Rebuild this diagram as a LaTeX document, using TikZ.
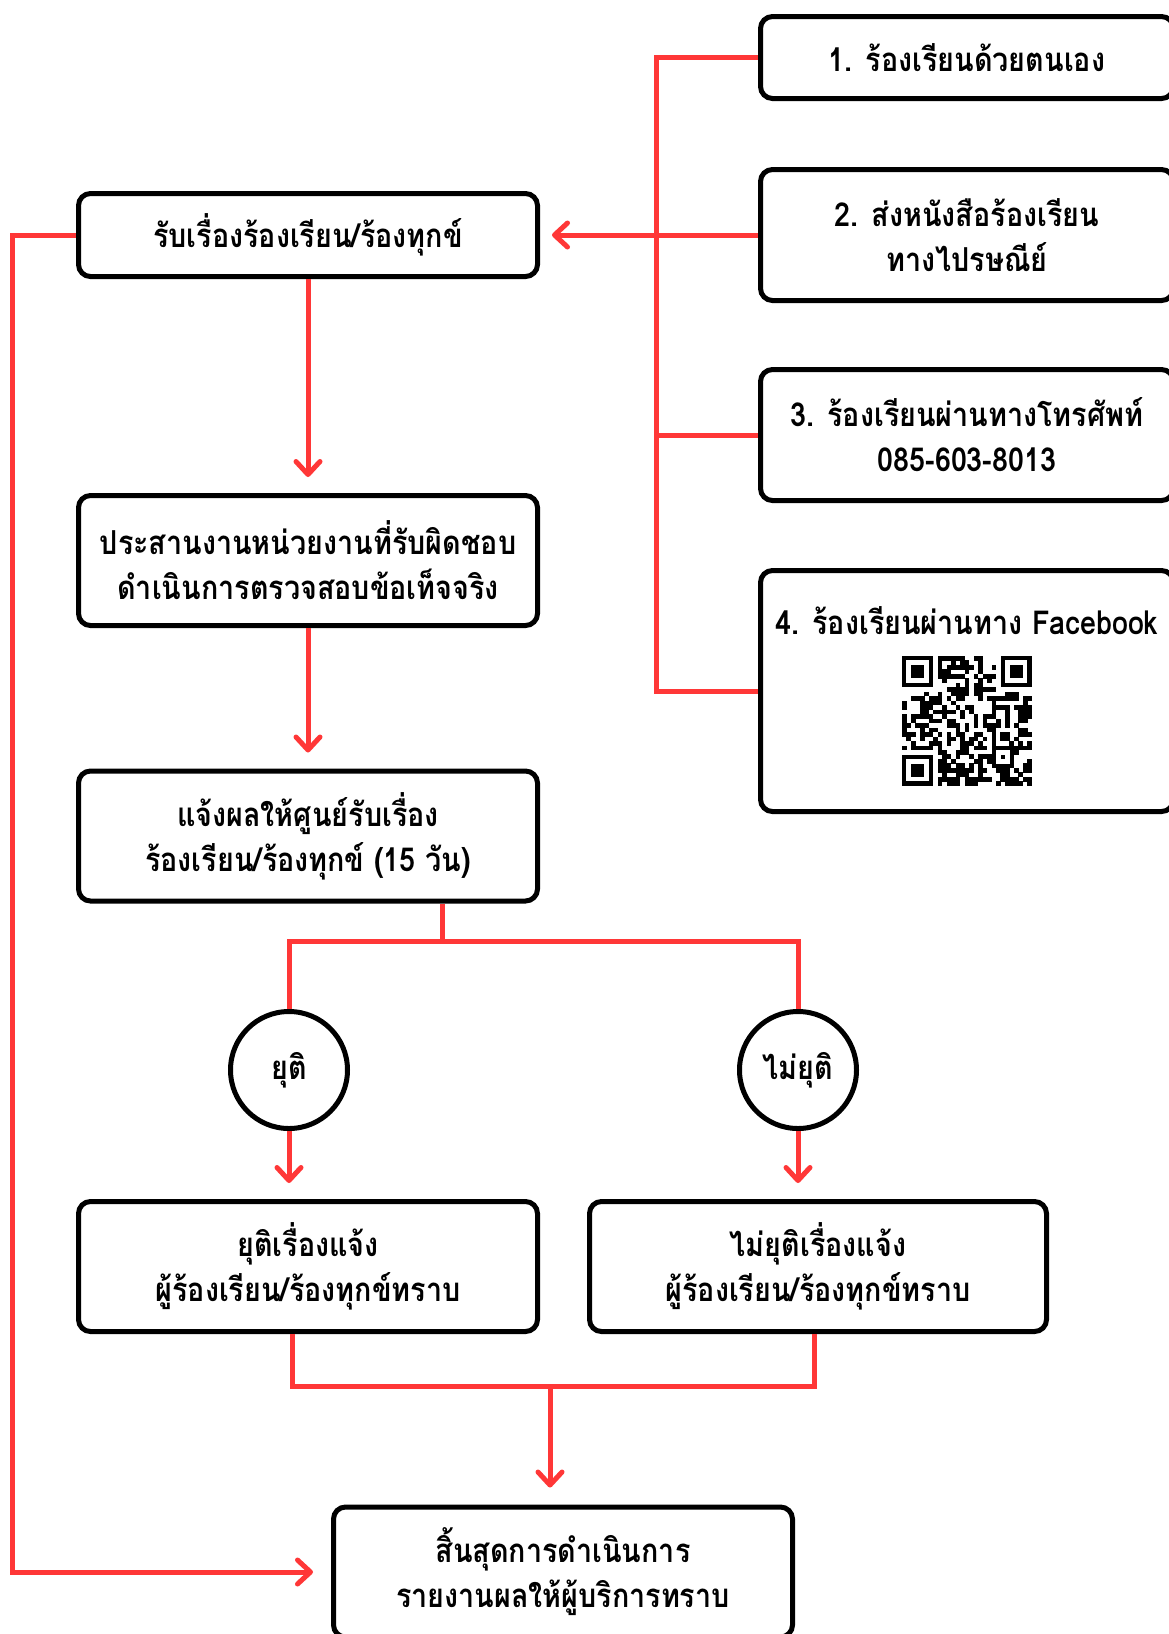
\documentclass[tikz,border=0pt]{standalone}
\usepackage{fontspec}
\newfontfamily\thai[Script=Thai, FakeStretch=0.87]{Loma}
\usetikzlibrary{arrows.meta}
\definecolor{lred}{RGB}{255,55,55}
\tikzset{
  txt/.style={font=\thai\bfseries\fontsize{33}{45}\selectfont},
  box/.style={txt, draw=black, line width=5pt, rounded corners=12pt, fill=white, align=center, inner sep=0pt},
  circ/.style={txt, draw=black, line width=5pt, circle, fill=white, minimum size=117pt, inner sep=0pt},
  lbl/.style={txt, inner sep=0pt},
  redline/.style={draw=lred, line width=5pt},
  redarrow/.style={draw=lred, line width=5pt, -{Straight Barb[length=13pt,width=24pt,round]}},
}
\begin{document}
\begin{tikzpicture}[x=1pt,y=-1pt]
\useasboundingbox (0,0) rectangle (1169,1634);
\clip (0,0) rectangle (1169,1634);
\fill[white] (0,0) rectangle (1169,1634);

% right boxes
\node[box, minimum width=413pt, minimum height=82pt] (r1) at (967,57.5) {1. ร้องเรียนด้วยตนเอง};
\node[box, minimum width=413pt, minimum height=131pt] (r2) at (967,235) {2. ส่งหนังสือร้องเรียน\\ทางไปรษณีย์};
\node[box, minimum width=413pt, minimum height=131pt] (r3) at (967,435) {3. ร้องเรียนผ่านทางโทรศัพท์\\085-603-8013};
\node[box, minimum width=413pt, minimum height=241pt] (r4) at (967,691) {};
\node[lbl] (r4t) at (967,621) {4. ร้องเรียนผ่านทาง Facebook};

% QR code (approximate)
\pgfmathsetseed{20231}
\foreach \i in {0,...,28}{
  \foreach \j in {0,...,28}{
    \pgfmathtruncatemacro\flag{ifthenelse(((\i<8)&&(\j<8))||((\i>20)&&(\j<8))||((\i<8)&&(\j>20))||((\i>19)&&(\i<25)&&(\j>19)&&(\j<25)),0,1)}
    \pgfmathrandominteger{\rr}{0}{99}
    \ifnum\flag=1
      \ifnum\rr<50
        \fill[black] (902+\i*4.48-0.1,656+\j*4.48-0.1) rectangle ++(4.68,4.68);
      \fi
    \fi
  }
}
\foreach \ox/\oy in {0/0,22/0,0/22}{
  \fill[black] (902+\ox*4.48,656+\oy*4.48) rectangle ++(7*4.48,7*4.48);
  \fill[white] (902+\ox*4.48+4.48,656+\oy*4.48+4.48) rectangle ++(5*4.48,5*4.48);
  \fill[black] (902+\ox*4.48+2*4.48,656+\oy*4.48+2*4.48) rectangle ++(3*4.48,3*4.48);
}
\fill[black] (902+20*4.48,656+20*4.48) rectangle ++(5*4.48,5*4.48);
\fill[white] (902+21*4.48,656+21*4.48) rectangle ++(3*4.48,3*4.48);
\fill[black] (902+22*4.48,656+22*4.48) rectangle ++(4.48,4.48);

% left column
\node[box, minimum width=459pt, minimum height=83pt] (a) at (308,235) {รับเรื่องร้องเรียน/ร้องทุกข์};
\node[box, minimum width=459pt, minimum height=130pt] (b) at (308,560.5) {ประสานงานหน่วยงานที่รับผิดชอบ\\ดำเนินการตรวจสอบข้อเท็จจริง};
\node[box, minimum width=459pt, minimum height=130pt] (c) at (308,836) {แจ้งผลให้ศูนย์รับเรื่อง\\ร้องเรียน/ร้องทุกข์ (15 วัน)};
\node[circ] (y) at (289,1070) {ยุติ};
\node[circ] (n) at (798,1070) {ไม่ยุติ};
\node[box, minimum width=459pt, minimum height=130pt] (d) at (308,1266.5) {ยุติเรื่องแจ้ง\\ผู้ร้องเรียน/ร้องทุกข์ทราบ};
\node[box, minimum width=457pt, minimum height=130pt] (e) at (818,1266.5) {ไม่ยุติเรื่องแจ้ง\\ผู้ร้องเรียน/ร้องทุกข์ทราบ};
\node[box, minimum width=459pt, minimum height=130pt] (f) at (563,1572) {สิ้นสุดการดำเนินการ\\รายงานผลให้ผู้บริการทราบ};

% coordinates
\coordinate (bx) at (656,0);
\coordinate (lx) at (12.5,0);
\coordinate (cj) at (442,941);
\coordinate (dj) at (292,1386);
\coordinate (ej) at (814,1386);
\coordinate (mj) at (550,1386);

% connectors
\draw[redline] (r1.west) -- (r1.west -| bx) -- (r4.west -| bx) -- (r4.west);
\draw[redline] (r2.west) -- (r2.west -| bx);
\draw[redline] (r3.west) -- (r3.west -| bx);
\draw[redarrow, shorten >=12pt] (a.east -| bx) -- (a.east);
\draw[redarrow, shorten >=18pt] (a.west) -- (a.west -| lx) -- (f.west -| lx) -- (f.west);
\draw[redarrow, shorten >=16pt] (a.south) -- (b.north);
\draw[redarrow, shorten >=16pt] (b.south) -- (c.north);
\draw[redline] (c.south -| cj) -- (cj) -- (cj -| y) -- (y.north);
\draw[redline] (cj) -- (cj -| n) -- (n.north);
\draw[redarrow, shorten >=16pt] (y.south) -- (y.south |- d.north);
\draw[redarrow, shorten >=16pt] (n.south) -- (n.south |- e.north);
\draw[redline] (d.south -| dj) -- (dj) -- (ej) -- (e.south -| ej);
\draw[redarrow, shorten >=17pt] (mj) -- (mj |- f.north);
\end{tikzpicture}
\end{document}
